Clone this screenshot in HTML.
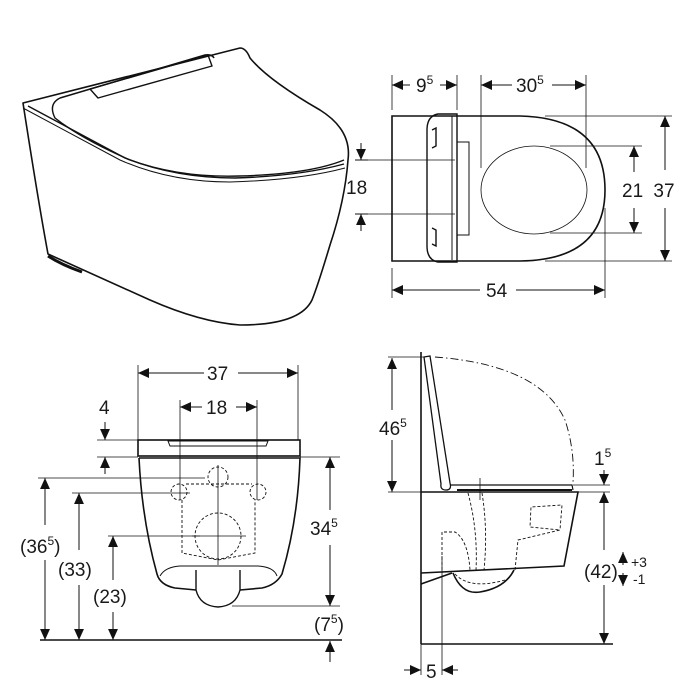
<!DOCTYPE html>
<html><head><meta charset="utf-8"><style>
html,body{margin:0;padding:0;background:#fff}
svg{display:block}
text{font-family:"Liberation Sans",sans-serif;fill:#1a1a1a}
</style></head><body>
<svg width="700" height="700" viewBox="0 0 700 700" xmlns="http://www.w3.org/2000/svg">
<defs>
<marker id="a" viewBox="0 0 10 10" refX="10" refY="5" markerWidth="11" markerHeight="11" markerUnits="userSpaceOnUse" orient="auto-start-reverse"><path d="M0,0.5 L10,5 L0,9.5 Z" fill="#111"/></marker>
</defs>
<g fill="none" stroke="#111" stroke-width="1.6" stroke-linejoin="round">
<path d="M23,103 L240,48 Q246,48 250,58 Q268,80 320,110 Q352,130 348,160 Q345,200 330,245 Q318,285 312,300 Q300,325 240,325 Q200,322 150,300 L48,254 Q38,200 23,103 Z"/>
<path d="M23,108 Q60,128 120,160 Q170,182 230,182 Q300,180 345,168" stroke-width="1"/>
<path d="M28,106 Q65,126 125,158 Q175,178 235,178 Q300,176 344,164" stroke-width="1.4"/>
<path d="M60,98 Q48,104 55,118 Q80,138 130,160 Q180,178 240,176 Q310,174 344,160" stroke-width="1.4"/>
<path d="M60,98 L205,55 Q212,54 214,58"/>
<path d="M90,89 L208,55 L212,66 L98,98 Z" stroke-width="1.4"/>
<path d="M48,256 Q62,265 82,272" stroke-width="3"/>
</g>
<g stroke="#111" stroke-width="1">
<line x1="355" y1="160" x2="368" y2="160"/><line x1="355" y1="214" x2="368" y2="214"/>
<line x1="361" y1="143" x2="361" y2="160" marker-end="url(#a)"/>
<line x1="361" y1="231" x2="361" y2="214" marker-end="url(#a)"/>
</g>
<text x="346" y="194" font-size="19">18</text>

<g fill="none" stroke="#111" stroke-width="1.6">
<path d="M457,116 L392,116 L392,261 L457,261"/>
<path d="M457,116 L520,116 Q605,118 605,190 Q605,260 520,261 L457,261"/>
<path d="M457,114 L438,114 Q427,116 427,130 L427,246 Q427,260 438,262 L457,262 Z" stroke-width="1.4"/>
<path d="M452,116 L452,260" stroke-width="1"/>
<rect x="457" y="142" width="12" height="93" stroke-width="1"/>
<ellipse cx="534" cy="190" rx="53" ry="44" stroke-width="0.8"/>
<path d="M432,130 L436,128 L436,146 L432,148" stroke-width="1.4"/>
<path d="M432,228 L436,230 L436,246 L432,244" stroke-width="1.4"/>
</g>
<g stroke="#111" stroke-width="0.8" fill="none">
<line x1="355" y1="160" x2="455" y2="160"/><line x1="355" y1="214" x2="455" y2="214"/>
<line x1="392" y1="75" x2="392" y2="110"/><line x1="457" y1="75" x2="457" y2="110"/>
<line x1="481" y1="75" x2="481" y2="168"/><line x1="586" y1="75" x2="586" y2="168"/>
<line x1="545" y1="116" x2="672" y2="116"/><line x1="545" y1="261" x2="672" y2="261"/>
<line x1="550" y1="146" x2="642" y2="146"/><line x1="550" y1="233" x2="642" y2="233"/>
<line x1="392" y1="268" x2="392" y2="298"/><line x1="605" y1="208" x2="605" y2="298"/>
</g>
<g stroke="#111" stroke-width="1">
<line x1="410" y1="85" x2="392" y2="85" marker-end="url(#a)"/><line x1="440" y1="85" x2="457" y2="85" marker-end="url(#a)"/>
<line x1="512" y1="85" x2="481" y2="85" marker-end="url(#a)"/><line x1="552" y1="85" x2="586" y2="85" marker-end="url(#a)"/>
<line x1="665" y1="170" x2="665" y2="116" marker-end="url(#a)"/><line x1="665" y1="208" x2="665" y2="261" marker-end="url(#a)"/>
<line x1="634" y1="172" x2="634" y2="146" marker-end="url(#a)"/><line x1="634" y1="208" x2="634" y2="233" marker-end="url(#a)"/>
<line x1="480" y1="290" x2="392" y2="290" marker-end="url(#a)"/><line x1="516" y1="290" x2="605" y2="290" marker-end="url(#a)"/>
</g>
<text x="416" y="92" font-size="19">9<tspan font-size="12" dy="-8">5</tspan></text>
<text x="516" y="92" font-size="19">30<tspan font-size="12" dy="-8">5</tspan></text>
<text x="622" y="197" font-size="19">21</text>
<text x="664" y="197" font-size="19" text-anchor="middle" style="paint-order:stroke" stroke="#fff" stroke-width="4">37</text>
<text x="486" y="297" font-size="19">54</text>

<g fill="none" stroke="#111" stroke-width="1.6">
<rect x="138" y="440" width="162" height="16"/>
<path d="M168,441 L268,441 L266,446 L170,446 Z" stroke-width="1"/>
<path d="M139,458 L300,458 Q298,520 282,574 Q276,585 262,588 L240,590 M196,590 L175,588 Q160,585 157,574 Q142,520 139,458"/>
<path d="M160,576 Q165,567 180,566 L258,566 Q274,567 277,576" stroke-width="1"/>
<path d="M196,570 L196,590 Q200,606 218,607 Q236,606 240,590 L240,570" stroke-width="1.4"/>
</g>
<g fill="none" stroke="#111" stroke-width="0.9" stroke-dasharray="3,2">
<circle cx="218" cy="477" r="10"/><circle cx="218" cy="536" r="23"/>
<circle cx="179" cy="492" r="8"/><circle cx="258" cy="492" r="8"/>
<path d="M186,484 L252,484 M182,500 L182,553 L218,560 L255,553 L255,500"/>
</g>
<g stroke="#111" stroke-width="0.8">
<line x1="218" y1="465" x2="218" y2="565"/><line x1="192" y1="536" x2="246" y2="536"/>
<line x1="138" y1="365" x2="138" y2="440"/><line x1="298" y1="365" x2="298" y2="440"/>
<line x1="180" y1="400" x2="180" y2="500"/><line x1="257" y1="400" x2="257" y2="500"/>
<line x1="97" y1="440" x2="138" y2="440"/><line x1="97" y1="457" x2="138" y2="457"/>
<line x1="300" y1="457" x2="340" y2="457"/><line x1="232" y1="606" x2="340" y2="606"/>
<line x1="38" y1="478" x2="205" y2="478"/><line x1="72" y1="493" x2="190" y2="493"/>
<line x1="108" y1="536" x2="200" y2="536"/>
</g>
<line x1="40" y1="640" x2="342" y2="640" stroke="#111" stroke-width="1.6"/>
<g stroke="#111" stroke-width="1">
<line x1="204" y1="373" x2="138" y2="373" marker-end="url(#a)"/><line x1="238" y1="373" x2="298" y2="373" marker-end="url(#a)"/>
<line x1="202" y1="407" x2="180" y2="407" marker-end="url(#a)"/><line x1="236" y1="407" x2="257" y2="407" marker-end="url(#a)"/>
<line x1="105" y1="422" x2="105" y2="440" marker-end="url(#a)"/><line x1="105" y1="474" x2="105" y2="457" marker-end="url(#a)"/>
<line x1="330" y1="510" x2="330" y2="457" marker-end="url(#a)"/><line x1="330" y1="545" x2="330" y2="606" marker-end="url(#a)"/>
<line x1="330" y1="662" x2="330" y2="641" marker-end="url(#a)"/>
<line x1="45" y1="525" x2="45" y2="478" marker-end="url(#a)"/><line x1="45" y1="560" x2="45" y2="640" marker-end="url(#a)"/>
<line x1="79" y1="550" x2="79" y2="493" marker-end="url(#a)"/><line x1="79" y1="585" x2="79" y2="640" marker-end="url(#a)"/>
<line x1="113" y1="580" x2="113" y2="536" marker-end="url(#a)"/><line x1="113" y1="612" x2="113" y2="640" marker-end="url(#a)"/>
</g>
<text x="207" y="380" font-size="19">37</text>
<text x="206" y="414" font-size="19">18</text>
<text x="99" y="414" font-size="19">4</text>
<text x="310" y="535" font-size="19">34<tspan font-size="12" dy="-8">5</tspan></text>
<text x="314" y="631" font-size="19">(7<tspan font-size="12" dy="-8">5</tspan><tspan dy="8">)</tspan></text>
<text x="20" y="553" font-size="19">(36<tspan font-size="12" dy="-8">5</tspan><tspan dy="8">)</tspan></text>
<text x="58" y="576" font-size="19">(33)</text>
<text x="93" y="603" font-size="19">(23)</text>

<g fill="none" stroke="#111" stroke-width="1.6">
<line x1="421" y1="352" x2="421" y2="644"/>
<line x1="421" y1="644" x2="613" y2="644"/>
<path d="M421,492 L578,492 L564,566 L421,573"/>
<path d="M421,584 L452,573 M453,573 Q462,595 480,592 Q505,588 514,570"/>
<path d="M424,357 L430,356 L450,483 Q452,490 446,490 Q440,490 441,484 Z" stroke-width="1.3"/>
<path d="M450,485 L572,485 L573,490" stroke-width="1.2"/>
<path d="M457,490 L572,490" stroke-width="2"/>
</g>
<path d="M435,357 Q540,365 565,420 Q575,450 573,482" fill="none" stroke="#111" stroke-width="0.9" stroke-dasharray="8,3,1.5,3"/>
<g fill="none" stroke="#111" stroke-width="0.9" stroke-dasharray="3,2">
<path d="M468,493 Q478,530 476,570 M482,493 Q488,530 484,570"/>
<path d="M442,570 L442,532 L455,532 Q468,540 470,570"/>
<path d="M515,570 L518,540 L560,530 L562,505 L531,507 L530,527 L560,530"/>
<path d="M455,574 Q470,590 505,580"/>
</g>
<g stroke="#111" stroke-width="0.8">
<line x1="388" y1="357" x2="424" y2="357"/><line x1="388" y1="492" x2="421" y2="492"/>
<line x1="573" y1="485" x2="610" y2="485"/><line x1="578" y1="492" x2="610" y2="492"/>
<line x1="442" y1="556" x2="442" y2="675"/><line x1="421" y1="644" x2="421" y2="675"/>
<line x1="480" y1="478" x2="480" y2="500"/>
</g>
<g stroke="#111" stroke-width="1">
<line x1="392" y1="410" x2="392" y2="358" marker-end="url(#a)"/><line x1="392" y1="440" x2="392" y2="492" marker-end="url(#a)"/>
<line x1="604" y1="470" x2="604" y2="485" marker-end="url(#a)"/>
<line x1="604" y1="550" x2="604" y2="492" marker-end="url(#a)"/><line x1="604" y1="585" x2="604" y2="644" marker-end="url(#a)"/>
<line x1="623" y1="565" x2="623" y2="552" marker-end="url(#a)"/><line x1="623" y1="573" x2="623" y2="586" marker-end="url(#a)"/>
<line x1="404" y1="670" x2="421" y2="670" marker-end="url(#a)"/><line x1="458" y1="670" x2="442" y2="670" marker-end="url(#a)"/>
</g>
<text x="379" y="435" font-size="19">46<tspan font-size="12" dy="-8">5</tspan></text>
<text x="594" y="465" font-size="19">1<tspan font-size="12" dy="-8">5</tspan></text>
<text x="584" y="578" font-size="19">(42)</text>
<text x="631" y="567" font-size="14">+3</text>
<text x="633" y="584" font-size="14">-1</text>
<text x="426" y="678" font-size="19">5</text>
</svg>
</body></html>
